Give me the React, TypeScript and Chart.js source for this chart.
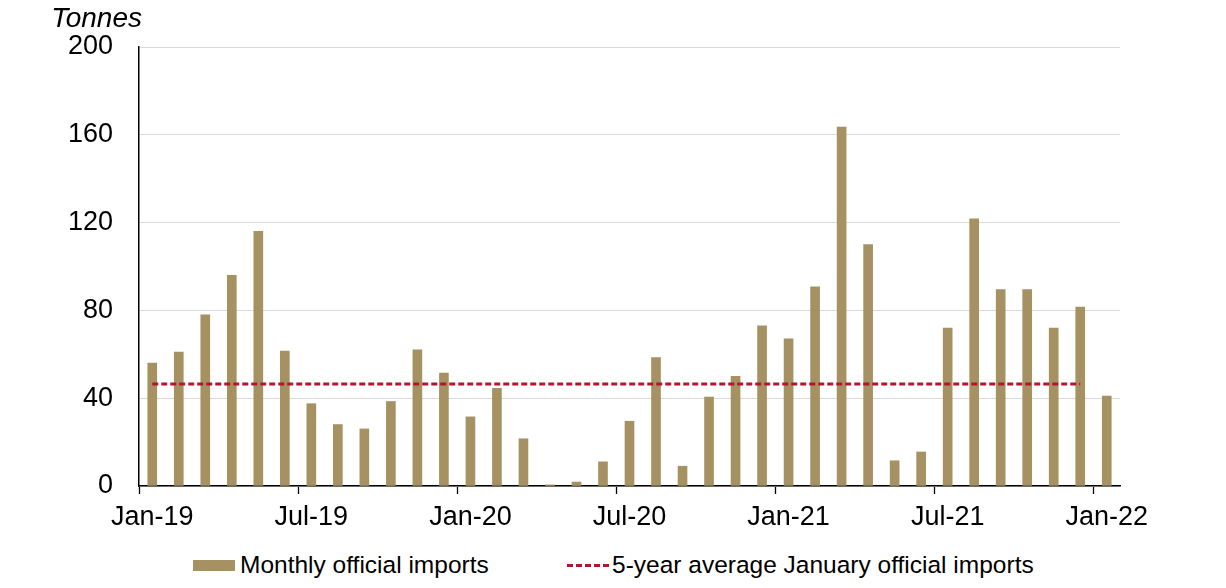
import { useEffect, useRef } from "react";
import { Chart, registerables } from "chart.js";

Chart.register(...registerables);

const months = [
  "Jan-19", "Feb-19", "Mar-19", "Apr-19", "May-19", "Jun-19", "Jul-19", "Aug-19", "Sep-19", "Oct-19", "Nov-19", "Dec-19",
  "Jan-20", "Feb-20", "Mar-20", "Apr-20", "May-20", "Jun-20", "Jul-20", "Aug-20", "Sep-20", "Oct-20", "Nov-20", "Dec-20",
  "Jan-21", "Feb-21", "Mar-21", "Apr-21", "May-21", "Jun-21", "Jul-21", "Aug-21", "Sep-21", "Oct-21", "Nov-21", "Dec-21",
  "Jan-22",
];

const monthlyImports = [
  56, 61, 78, 96, 116, 61.5, 37.5, 28, 26, 38.5, 62, 51.5,
  31.5, 44.5, 21.5, 0.5, 1.8, 11, 29.5, 58.5, 9, 40.5, 50, 73,
  67, 90.7, 163.5, 110, 11.5, 15.5, 72, 121.7, 89.5, 89.5, 72, 81.5,
  41,
];

const fiveYearAvgJanuary = [
  46.5, 46.5, 46.5, 46.5, 46.5, 46.5, 46.5, 46.5, 46.5, 46.5, 46.5, 46.5,
  46.5, 46.5, 46.5, 46.5, 46.5, 46.5, 46.5, 46.5, 46.5, 46.5, 46.5, 46.5,
  46.5, 46.5, 46.5, 46.5, 46.5, 46.5, 46.5, 46.5, 46.5, 46.5, 46.5, 46.5,
  null,
];

const yTicks = [0, 40, 80, 120, 160, 200];
const xLabelEvery = 6;

const seriesNames = ["Monthly official imports", "5-year average January official imports"];

const FONT = '"Liberation Sans", Arial, sans-serif';
const BAR_COLOR = "#A69162";
const LINE_COLOR = "#B5142E";

const unitLabelPlugin = {
  id: "unitLabel",
  afterDraw(chart: any) {
    const { ctx, chartArea } = chart;
    ctx.save();
    ctx.font = `italic 28px ${FONT}`;
    ctx.fillStyle = "#000";
    ctx.textAlign = "right";
    ctx.textBaseline = "alphabetic";
    ctx.fillText("Tonnes", chartArea.left + 3, 27);
    ctx.restore();
  },
};

export default function App() {
  const ref = useRef<HTMLCanvasElement>(null);

  useEffect(() => {
    document.body.style.margin = "0";
    const canvas = ref.current;
    if (!canvas) return;
    Chart.defaults.font.family = FONT;
    Chart.defaults.color = "#000";

    const chart = new Chart(canvas, {
      type: "bar",
      data: {
        labels: months,
        datasets: [
          {
            type: "bar",
            label: seriesNames[0],
            data: monthlyImports,
            backgroundColor: BAR_COLOR,
            borderWidth: 0,
            barThickness: 9,
            order: 1,
          } as any,
          {
            type: "line",
            label: seriesNames[1],
            data: fiveYearAvgJanuary,
            borderColor: LINE_COLOR,
            backgroundColor: LINE_COLOR,
            borderWidth: 3,
            borderDash: [6, 3],
            pointRadius: 0,
            tension: 0,
            order: 0,
          } as any,
        ],
      },
      options: {
        animation: false,
        responsive: true,
        maintainAspectRatio: false,
        layout: { padding: { left: 0, right: 106, top: 47, bottom: 0 } },
        plugins: {
          tooltip: { enabled: false },
          legend: { display: false },
        },
        scales: {
          x: {
            type: "category",
            offset: true,
            grid: {
              display: true,
              offset: true,
              drawOnChartArea: false,
              drawTicks: true,
              tickLength: 8,
              tickWidth: 1.3,
              tickColor: (ctx: any) => (ctx.index % xLabelEvery === 0 ? "#000" : "rgba(0,0,0,0)"),
            },
            border: { display: true, color: "#000", width: 1.5 },
            ticks: {
              autoSkip: false,
              maxRotation: 0,
              minRotation: 0,
              padding: 7,
              font: { size: 27, family: FONT },
              color: "#000",
              callback: (_v: any, i: number) => (i % xLabelEvery === 0 ? months[i] : ""),
            },
            afterFit: (s: any) => {
              s.height = 56;
            },
          },
          y: {
            min: 0,
            max: 200,
            afterBuildTicks: (s: any) => {
              s.ticks = yTicks.map((v) => ({ value: v }));
            },
            grid: { color: "#d9d9d9", lineWidth: 1, drawTicks: false },
            border: { display: true, color: "#000", width: 1.5 },
            ticks: {
              padding: 26,
              font: { size: 27, family: FONT },
              color: "#000",
            },
            afterFit: (s: any) => {
              s.width = 139;
            },
          },
        },
      },
      plugins: [unitLabelPlugin],
    });

    return () => chart.destroy();
  }, []);

  const legendText: any = {
    position: "absolute",
    top: 0,
    height: 46,
    display: "flex",
    alignItems: "center",
    fontFamily: FONT,
    fontSize: 24.5,
    color: "#000",
    whiteSpace: "nowrap",
  };

  return (
    <div style={{ width: 1226, height: 588, position: "relative", overflow: "hidden" }}>
      <div style={{ width: 1226, height: 542, position: "relative" }}>
        <canvas ref={ref} />
      </div>
      <div style={{ position: "absolute", left: 0, top: 542, width: 1226, height: 46 }}>
        <span
          style={{
            position: "absolute",
            left: 193,
            top: 18,
            width: 42,
            height: 11,
            background: BAR_COLOR,
          }}
        />
        <span style={{ ...legendText, left: 240 }}>{seriesNames[0]}</span>
        <span
          style={{
            position: "absolute",
            left: 567,
            top: 22,
            width: 42,
            height: 3,
            background: `repeating-linear-gradient(to right, ${LINE_COLOR} 0px, ${LINE_COLOR} 6px, transparent 6px, transparent 9px)`,
          }}
        />
        <span style={{ ...legendText, left: 612 }}>{seriesNames[1]}</span>
      </div>
    </div>
  );
}
